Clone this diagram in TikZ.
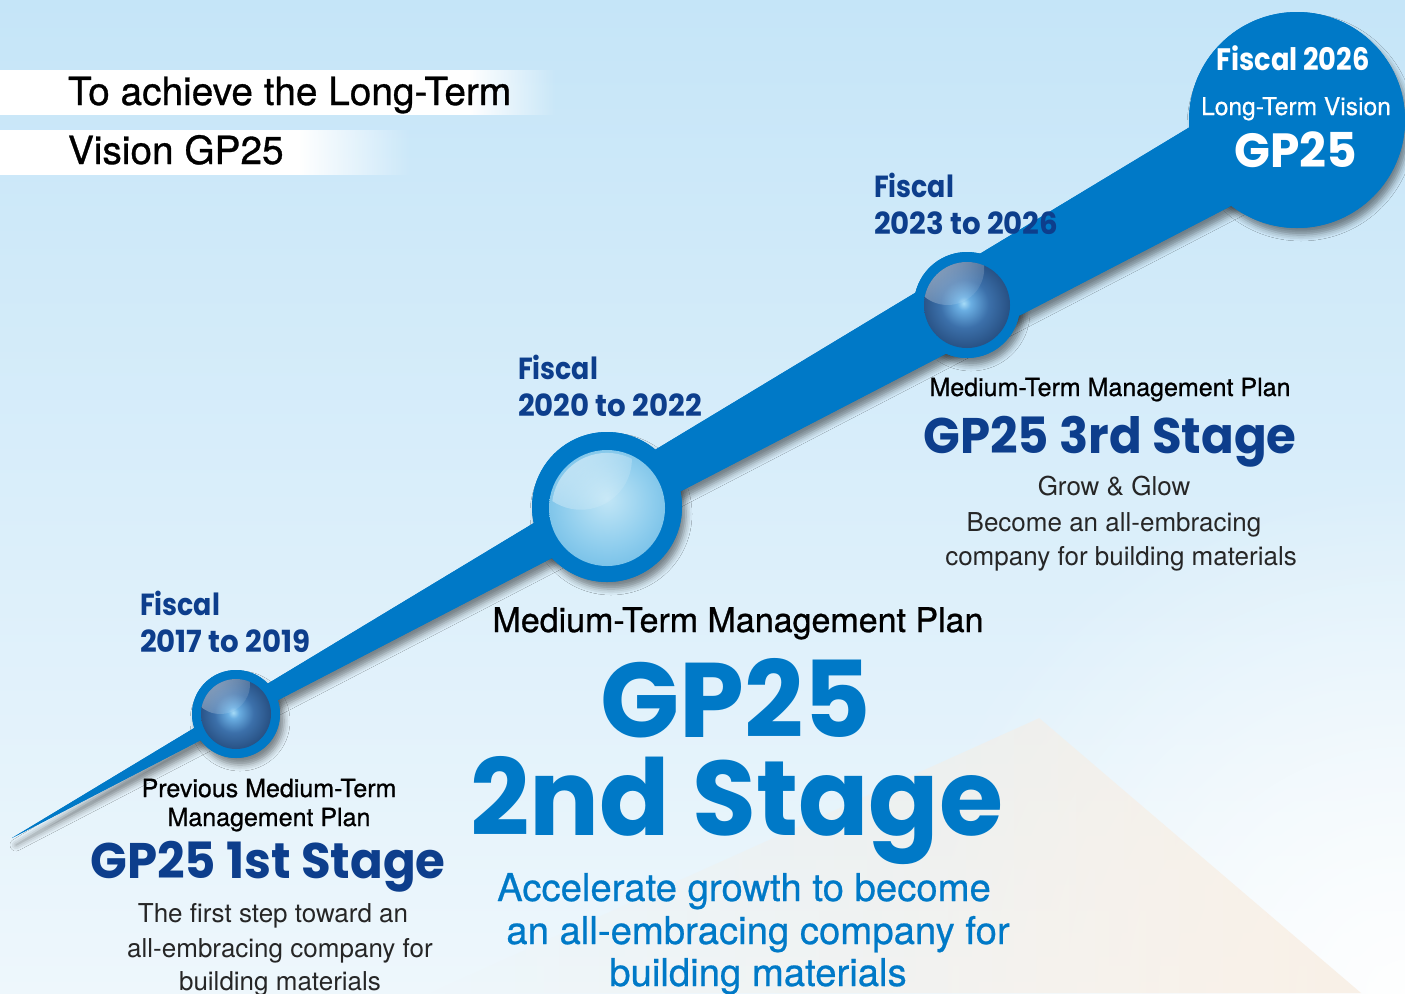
\documentclass[tikz,border=0pt]{standalone}
\usepackage{fontspec}
\setmainfont{TeX Gyre Heros}
\newfontfamily\geofont{Poppins}
\usetikzlibrary{shadows.blur,fadings}

% palette
\definecolor{bgtop}{HTML}{C5E5F8}
\definecolor{bgmid}{HTML}{DCEFFA}
\definecolor{bgbot}{HTML}{EEF7FC}
\definecolor{ribbon}{HTML}{0079C7}
\definecolor{navy}{HTML}{0D3E8C}
\definecolor{beige}{HTML}{F8EDE1}
\definecolor{dkA}{HTML}{A6DBF7}
\definecolor{dkB}{HTML}{6AAEE2}
\definecolor{dkC}{HTML}{3C70AA}
\definecolor{dkD}{HTML}{1D406F}
\definecolor{dkE}{HTML}{0B2142}
\definecolor{ltA}{HTML}{C2E6F6}
\definecolor{ltB}{HTML}{92CFEE}
\definecolor{ltC}{HTML}{5AB1E1}
\definecolor{ltD}{HTML}{4FA1DA}
\definecolor{ltE}{HTML}{3C6BB3}
\definecolor{ltF}{HTML}{2F4F9A}

% fadings
\tikzfading[name=fadeR, left color=transparent!0, right color=transparent!100]
\tikzfading[name=fadeL, left color=transparent!100, right color=transparent!0]
\tikzfading[name=glow, inner color=transparent!0, outer color=transparent!100]
\tikzfading[name=gloss, top color=transparent!15, bottom color=transparent!90]

% sphere shadings
\pgfdeclareradialshading{darksphere}{\pgfpoint{-2bp}{1bp}}{color(0bp)=(dkA); color(4bp)=(dkB); color(14bp)=(dkC); color(32bp)=(dkD); color(50bp)=(dkE)}
\pgfdeclareradialshading{lightsphere}{\pgfpoint{0bp}{4bp}}{color(0bp)=(ltA); color(18bp)=(ltB); color(40bp)=(ltC); color(46bp)=(ltD); color(48.5bp)=(ltE); color(50bp)=(ltF)}

% geometric heading face, horizontally scaled by #1
\newcommand\geo[1]{\geofont\bfseries\addfontfeatures{FakeStretch=#1}}

% glossy sphere at (#1,#2) with radius #3
\newcommand\darkball[3]{%
  \begin{scope}[shift={(#1,#2)}]
    \shade[shading=darksphere] (0,0) circle (#3);
    \begin{scope}
      \clip (0,0) circle (#3);
      \fill[white, opacity=0.8, path fading=gloss, fading angle=40]
        ({-0.45*#3},{-0.85*#3}) circle ({0.85*#3});
    \end{scope}
  \end{scope}}
\newcommand\lightball[3]{%
  \begin{scope}[shift={(#1,#2)}]
    \shade[shading=lightsphere] (0,0) circle (#3);
    \begin{scope}
      \clip (0,0) circle ({0.95*#3});
      \fill[white, opacity=0.95, path fading=gloss, fading angle=40]
        ({-0.45*#3},{-0.85*#3}) circle ({0.88*#3});
    \end{scope}
  \end{scope}}

\tikzset{
  every node/.style={inner sep=0pt, outer sep=0pt},
  shdw/.style={blur shadow={shadow xshift=4pt, shadow yshift=-7pt,
      shadow blur radius=6pt, shadow opacity=45}},
  fiscal/.style={font={\geo{0.88}\fontsize{30.5}{36}\selectfont}, text=navy, anchor=base west},
  years/.style={font={\geo{0.96}\fontsize{30.5}{36}\selectfont}, text=navy, anchor=base west},
  bandtext/.style={font={\fontsize{38.8}{44}\selectfont\addfontfeatures{FakeBold=0.8}},
      text=black, anchor=base west},
  plan/.style={font={\fontsize{25}{29}\selectfont\addfontfeatures{FakeBold=0.8}},
      text=black, anchor=base},
  planbig/.style={font={\fontsize{34}{38}\selectfont\addfontfeatures{FakeBold=0.8}},
      text=black, anchor=base},
  stagehead/.style={font={\geo{0.965}\fontsize{50}{56}\selectfont}, text=navy, anchor=base},
  gpbig/.style={font={\geo{0.98}\fontsize{106}{116}\selectfont}, text=ribbon, anchor=base},
  accel/.style={font={\fontsize{38.3}{44}\selectfont\addfontfeatures{FakeBold=0.6}},
      text=ribbon, anchor=base},
  desc/.style={font=\fontsize{26}{30}\selectfont, text=black!85, anchor=base},
}

\begin{document}
\begin{tikzpicture}[x=1pt, y=-1pt]
  \useasboundingbox (0,0) rectangle (1405,993);

  % backdrop
  \shade[top color=bgtop, middle color=bgmid, bottom color=bgbot] (0,0) rectangle (1405,993);
  \fill[white, path fading=glow, opacity=0.95] (1405,993) circle (520);
  \fill[beige, path fading=fadeL, opacity=0.8]
    (1040,718) -- (1362,993) -- (430,993) -- cycle;

  % title bands
  \fill[white] (0,70) rectangle (470,115);
  \fill[white, path fading=fadeR] (469,70) rectangle (556,115);
  \fill[white] (0,130) rectangle (300,175);
  \fill[white, path fading=fadeR] (299,130) rectangle (410,175);
  \node[bandtext] (band1) at (68,105) {To achieve the Long-Term};
  \node[bandtext] (band2) at (68,164) {Vision GP25};

  % shadows of the track
  \path[fill=ribbon, shdw] (12,838) -- (1260,84.7) -- (1260,190.9) -- cycle;
  \path[fill=ribbon, shdw] (236,714) circle (44);
  \path[fill=ribbon, shdw] (607,507) circle (75);
  \path[fill=ribbon, shdw] (967,305) circle (53);
  \path[fill=ribbon, shdw] (1297,120) circle (108);

  % the track itself
  \fill[ribbon] (12,838) -- (1260,84.7) -- (1260,190.9) -- cycle;
  \fill[ribbon] (236,714) circle (44);
  \fill[ribbon] (607,507) circle (75);
  \fill[ribbon] (967,305) circle (53);
  \fill[ribbon] (1297,120) circle (108);

  % milestone spheres
  \darkball{236}{714}{35}
  \lightball{607}{508}{58}
  \darkball{967}{305}{43}

  % stage 1
  \node[fiscal] (f1a) at (140,615) {Fiscal};
  \node[years] (f1b) at (140,652) {2017 to 2019};
  \node[plan] (p1a) at (269,797) {Previous Medium-Term};
  \node[plan] (p1b) at (269,826) {Management Plan};
  \node[stagehead] (s1) at (268,878) {GP25 1st Stage};
  \node[desc] (d1a) at (273,922) {The first step toward an};
  \node[desc] (d1b) at (280,957) {all-embracing company for};
  \node[desc] (d1c) at (280,990) {building materials};

  % stage 2
  \node[fiscal] (f2a) at (518,379) {Fiscal};
  \node[years] (f2b) at (518,416) {2020 to 2022};
  \node[planbig] (p2) at (738,632) {Medium-Term Management Plan};
  \node[gpbig] (g2) at (736,737) {GP25};
  \node[gpbig] (s2) at (737,835) {2nd Stage};
  \node[accel] (a1) at (744,901) {Accelerate growth to become};
  \node[accel] (a2) at (758,944) {an all-embracing company for};
  \node[accel] (a3) at (758,986) {building materials};

  % stage 3
  \node[fiscal] (f3a) at (874,197) {Fiscal};
  \node[years] (f3b) at (874,234) {2023 to 2026};
  \node[plan] (p3) at (1110,396) {Medium-Term Management Plan};
  \node[stagehead] (s3) at (1110,453) {GP25 3rd Stage};
  \node[desc] (d3a) at (1114,495) {Grow \& Glow};
  \node[desc] (d3b) at (1114,531) {Become an all-embracing};
  \node[desc] (d3c) at (1121,565) {company for building materials};

  % long-term vision
  \node[font={\geo{0.88}\fontsize{31}{36}\selectfont}, text=white, anchor=base] (v1) at (1293,70) {Fiscal 2026};
  \node[font={\fontsize{24.6}{29}\selectfont\addfontfeatures{FakeBold=0.6}}, text=white, anchor=base] (v2) at (1296,115) {Long-Term Vision};
  \node[font={\geo{0.98}\fontsize{48}{54}\selectfont}, text=white, anchor=base] (v3) at (1296,167) {GP25};
\end{tikzpicture}
\end{document}
